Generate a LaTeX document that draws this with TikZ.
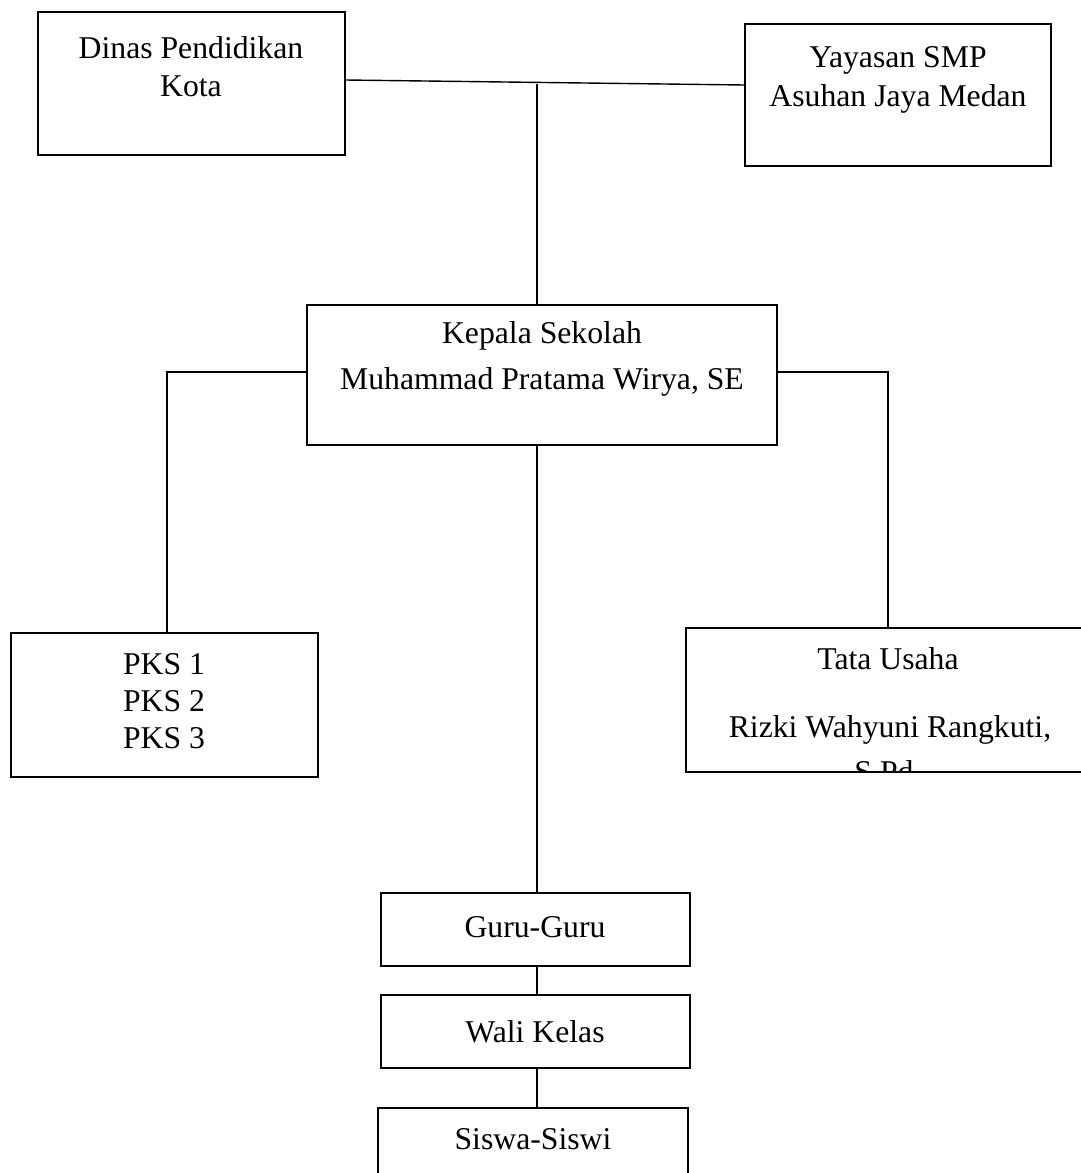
\documentclass[tikz,border=0pt]{standalone}
\usepackage{fontspec}
\setmainfont{Liberation Serif}
\usetikzlibrary{fit}
\begin{document}
\begin{tikzpicture}[x=1pt,y=-1pt,
  box/.style={draw=black,line width=1.4pt,inner sep=0pt,fit={#1}},
  txt/.style={anchor=base,inner sep=0pt,font=\fontsize{31.7}{36}\selectfont},
  conn/.style={draw=black,line width=1.4pt}]
\useasboundingbox (0,0) rectangle (1081,1173);
\clip (0,0) rectangle (1081,1173);
% boxes
\node[box={(38,12)(345,155)}] (dinas) {};
\node[box={(745,24)(1051,166)}] (yayasan) {};
\node[box={(307,305)(777,445)}] (kepala) {};
\node[box={(11,633)(318,777)}] (pks) {};
\node[box={(686,628)(1090,772)}] (tata) {};
\node[box={(381,893)(690,966)}] (guru) {};
\node[box={(381,995)(690,1068)}] (wali) {};
\node[box={(378,1108)(688,1181)}] (siswa) {};
% texts
\node[txt] (t1) at (191,58) {Dinas Pendidikan};
\node[txt] (t2) at (191,96) {Kota};
\node[txt] (t3) at (898,67) {Yayasan SMP};
\node[txt] (t4) at (898,106) {Asuhan Jaya Medan};
\node[txt] (t5) at (542,343) {Kepala Sekolah};
\node[txt] (t6) at (542,389) {Muhammad Pratama Wirya, SE};
\node[txt] (t7) at (164,674) {PKS 1};
\node[txt] (t8) at (164,711) {PKS 2};
\node[txt] (t9) at (164,748) {PKS 3};
\node[txt] (t10) at (888,669) {Tata Usaha};
\node[txt] (t11) at (890,737) {Rizki Wahyuni Rangkuti,};
\begin{scope}
\clip (686,628) rectangle (1090,771);
\node[txt] (t12) at (884,782) {S.Pd};
\end{scope}
\node[txt] (t13) at (535,937) {Guru-Guru};
\node[txt] (t14) at (535,1042) {Wali Kelas};
\node[txt] (t15) at (533,1149) {Siswa-Siswi};
% connectors
\coordinate (j) at (537,84);
\draw[conn] (dinas.east |- 0,80) -- (yayasan.west |- 0,85);
\draw[conn] (j) -- (j |- kepala.north);
\draw[conn] (kepala.west |- 0,372) -| (pks.north -| 167,0);
\draw[conn] (kepala.east |- 0,372) -| (tata.north);
\draw[conn] (kepala.south -| j) -- (guru.north -| j);
\draw[conn] (guru.south -| j) -- (wali.north -| j);
\draw[conn] (wali.south -| j) -- (siswa.north -| j);
\end{tikzpicture}
\end{document}
